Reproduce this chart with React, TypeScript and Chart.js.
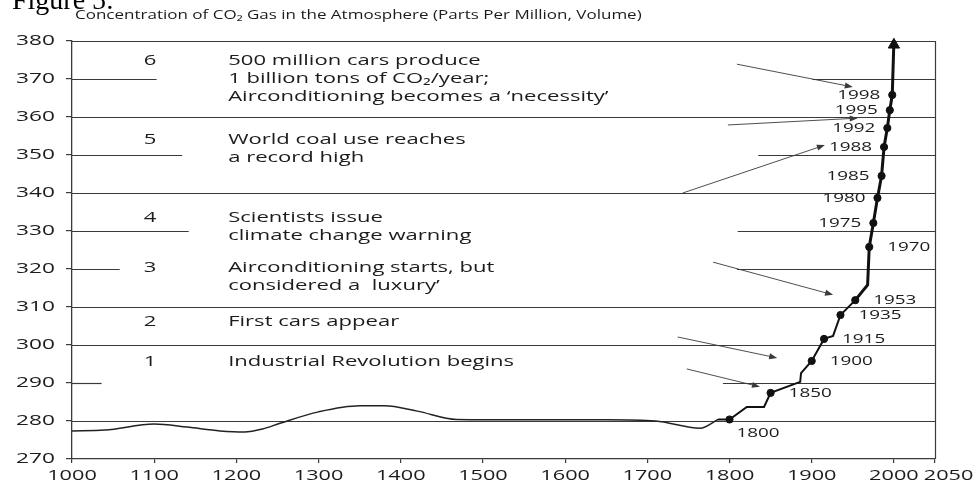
import { useEffect, useRef } from 'react';
import { Chart, registerables } from 'chart.js';

Chart.register(...registerables);

// ---------- data ----------
const xTickValues = [1000, 1100, 1200, 1300, 1400, 1500, 1600, 1700, 1800, 1900, 2000, 2050];
const yTickValues = [270, 280, 290, 300, 310, 320, 330, 340, 350, 360, 370, 380];

const preIndustrialYears = [1000, 1040, 1100, 1140, 1180, 1210, 1232, 1253, 1300, 1350, 1380, 1420, 1468, 1550, 1650, 1710, 1764, 1786];
const preIndustrialPpm = [277.4, 277.6, 279.2, 278.4, 277.4, 277.1, 277.9, 279.4, 282.4, 284.0, 284.0, 282.6, 280.4, 280.3, 280.3, 280.0, 278.1, 280.4];

const industrialYears = [1786, 1800, 1821, 1842, 1850, 1886, 1887, 1900, 1915, 1926, 1935, 1953, 1968, 1970, 1975, 1980, 1985, 1988, 1992, 1995, 1998, 2000];
const industrialPpm = [280.4, 280.4, 283.7, 283.7, 287.4, 290.3, 292.6, 295.8, 301.6, 302.4, 307.9, 311.8, 315.8, 325.8, 332.1, 338.7, 344.5, 352.1, 357.1, 361.8, 365.8, 380];

const markedYears = [1800, 1850, 1900, 1915, 1935, 1953, 1970, 1975, 1980, 1985, 1988, 1992, 1995, 1998];

const arrowTipYear = [2000];
const arrowTipPpm = [379.0];

const eventNumbers = ['6', '5', '4', '3', '2', '1'];
const eventLines = [
  ['500 million cars produce', '1 billion tons of CO\u2082/year;', 'Airconditioning becomes a \u2018necessity\u2019'],
  ['World coal use reaches', 'a record high'],
  ['Scientists issue', 'climate change warning'],
  ['Airconditioning starts, but', 'considered a  luxury\u2019'],
  ['First cars appear'],
  ['Industrial Revolution begins'],
];
const eventPpm = [374.7, 353.9, 333.4, 320.3, 306.1, 295.5];
const eventNumberYear = 1095;
const eventTextYear = 1190;

const pointerFromYear = [1809, 1798, 1743, 1780, 1737, 1748];
const pointerFromPpm = [373.9, 357.9, 340.0, 321.8, 302.1, 293.7];
const pointerToYear = [1950, 1956, 1916, 1926, 1858, 1837];
const pointerToPpm = [367.9, 359.7, 352.6, 313.2, 296.6, 289.0];

const fullGridLevels = [380, 360, 340, 310, 300, 280];
const partialGridLevels = [370, 350, 330, 320, 290];
const partialLeftEndYear = [1103, 1134, 1142, 1058, 1036];
const partialRightStartYear = [1901, 1835, 1810, 1809, 1792];

const titleText = 'Concentration of CO\u2082 Gas in the Atmosphere (Parts Per Million, Volume)';
const figureText = 'Figure 5:';

// ---------- styles ----------
const INK = '#1c1c1c';
const LINE = '#3a3a3a';
const FONT = '"Open Sans", "DejaVu Sans", sans-serif';

function stretchText(ctx: CanvasRenderingContext2D, text: string, x: number, y: number, align: string, sx: number) {
  const w = ctx.measureText(text).width * sx;
  const left = align === 'left' ? x : align === 'right' ? x - w : x - w / 2;
  ctx.save();
  ctx.translate(left, y);
  ctx.scale(sx, 1);
  ctx.textAlign = 'left';
  ctx.fillText(text, 0, 0);
  ctx.restore();
  return { left, right: left + w };
}

const overlayPlugin = {
  id: 'overlay',
  beforeDatasetsDraw(chart: any) {
    const { ctx, chartArea, scales } = chart;
    const x = scales.x;
    const y = scales.y;
    ctx.save();
    ctx.strokeStyle = LINE;
    ctx.lineWidth = 1.2;
    const seg = (v: number, a: number, b: number) => {
      const py = Math.round(y.getPixelForValue(v)) + 0.5;
      ctx.beginPath();
      ctx.moveTo(x.getPixelForValue(a), py);
      ctx.lineTo(x.getPixelForValue(b), py);
      ctx.stroke();
    };
    fullGridLevels.forEach((v) => seg(v, 1000, 2050));
    partialGridLevels.forEach((v, i) => {
      seg(v, 1000, partialLeftEndYear[i]);
      seg(v, partialRightStartYear[i], 2050);
    });
    ctx.beginPath();
    ctx.moveTo(Math.round(chartArea.right) + 0.5, chartArea.top);
    ctx.lineTo(Math.round(chartArea.right) + 0.5, chartArea.bottom);
    ctx.stroke();

    // pointer arrows
    ctx.lineWidth = 0.9;
    ctx.fillStyle = LINE;
    pointerFromYear.forEach((_, i) => {
      const x1 = x.getPixelForValue(pointerFromYear[i]);
      const y1 = y.getPixelForValue(pointerFromPpm[i]);
      const x2 = x.getPixelForValue(pointerToYear[i]);
      const y2 = y.getPixelForValue(pointerToPpm[i]);
      const ang = Math.atan2(y2 - y1, x2 - x1);
      ctx.beginPath();
      ctx.moveTo(x1, y1);
      ctx.lineTo(x2 - Math.cos(ang) * 4, y2 - Math.sin(ang) * 4);
      ctx.stroke();
      ctx.beginPath();
      ctx.moveTo(x2, y2);
      ctx.lineTo(x2 - Math.cos(ang) * 8 - Math.sin(ang) * 3, y2 - Math.sin(ang) * 8 + Math.cos(ang) * 3);
      ctx.lineTo(x2 - Math.cos(ang) * 8 + Math.sin(ang) * 3, y2 - Math.sin(ang) * 8 - Math.cos(ang) * 3);
      ctx.closePath();
      ctx.fill();
    });
    ctx.restore();
  },
  afterDatasetsDraw(chart: any) {
    const { ctx, chartArea, scales } = chart;
    const x = scales.x;
    const y = scales.y;
    ctx.save();
    ctx.fillStyle = INK;
    ctx.textBaseline = 'middle';

    // figure caption (cut off at top)
    ctx.save();
    ctx.font = '28px "Liberation Serif", serif';
    ctx.textBaseline = 'alphabetic';
    ctx.fillStyle = '#000';
    ctx.fillText(figureText, 12, 9);
    ctx.restore();

    // title
    ctx.font = `12.5px ${FONT}`;
    stretchText(ctx, titleText, chartArea.left + 3, 15, 'left', 1.36);

    // tick labels
    ctx.font = `14px ${FONT}`;
    y.ticks.forEach((t: any) => {
      stretchText(ctx, String(t.value), chartArea.left - 17, y.getPixelForValue(t.value), 'right', 1.62);
    });
    let prevRight = -Infinity;
    x.ticks.forEach((t: any) => {
      const label = String(t.value);
      const w = ctx.measureText(label).width * 1.55;
      let cx = x.getPixelForValue(t.value);
      if (cx - w / 2 < prevRight + 5) cx = prevRight + 5 + w / 2;
      const r = stretchText(ctx, label, cx, chartArea.bottom + 17, 'center', 1.55);
      prevRight = r.right;
    });

    // event annotations
    ctx.font = `15px ${FONT}`;
    eventNumbers.forEach((num, i) => {
      const py = y.getPixelForValue(eventPpm[i]);
      stretchText(ctx, num, x.getPixelForValue(eventNumberYear), py, 'center', 1.47);
      eventLines[i].forEach((line, j) => {
        stretchText(ctx, line, x.getPixelForValue(eventTextYear), py + j * 17.8, 'left', 1.47);
      });
    });

    // year labels beside dots
    ctx.font = `13px ${FONT}`;
    markedYears.forEach((yr) => {
      const idx = industrialYears.indexOf(yr);
      const px = x.getPixelForValue(yr);
      const py = y.getPixelForValue(industrialPpm[idx]);
      const label = String(yr);
      if (yr >= 1975) {
        stretchText(ctx, label, px - 12, py, 'right', 1.45);
      } else if (yr === 1800) {
        stretchText(ctx, label, px + 7, py + 14, 'left', 1.45);
      } else {
        stretchText(ctx, label, px + 18, py, 'left', 1.45);
      }
    });
    ctx.restore();
  },
};

export default function App() {
  const canvasRef = useRef<HTMLCanvasElement | null>(null);

  useEffect(() => {
    if (!canvasRef.current) return;
    const chart = new Chart(canvasRef.current, {
      type: 'line',
      data: {
        datasets: [
          {
            label: 'Pre-industrial',
            data: preIndustrialYears.map((yr, i) => ({ x: yr, y: preIndustrialPpm[i] })),
            borderColor: '#222',
            borderWidth: 1.5,
            pointRadius: 0,
            cubicInterpolationMode: 'monotone',
            fill: false,
          },
          {
            label: 'Industrial',
            data: industrialYears.map((yr, i) => ({ x: yr, y: industrialPpm[i] })),
            borderColor: '#111',
            borderWidth: 2,
            pointRadius: 0,
            tension: 0,
            fill: false,
            segment: {
              borderWidth: (c: any) => (c.p0.parsed.x >= 1953 ? 3 : 2),
            },
          },
          {
            label: 'Marked years',
            type: 'scatter',
            data: markedYears.map((yr) => ({ x: yr, y: industrialPpm[industrialYears.indexOf(yr)] })),
            backgroundColor: '#111',
            borderColor: '#111',
            pointRadius: 3.6,
            showLine: false,
          },
          {
            label: 'Arrow',
            type: 'scatter',
            data: arrowTipYear.map((yr, i) => ({ x: yr, y: arrowTipPpm[i] })),
            backgroundColor: '#111',
            borderColor: '#111',
            pointStyle: 'triangle',
            pointRadius: 6.5,
            clip: false,
            showLine: false,
          },
        ] as any,
      },
      options: {
        animation: false,
        responsive: false,
        devicePixelRatio: 1,
        layout: { padding: { top: 41, right: 41, left: 0, bottom: 0 } },
        plugins: { legend: { display: false }, title: { display: false }, tooltip: { enabled: false } },
        scales: {
          x: {
            type: 'linear',
            min: 1000,
            max: 2050,
            afterBuildTicks: (s: any) => {
              s.ticks = xTickValues.map((v) => ({ value: v }));
            },
            afterFit: (s: any) => {
              s.height = 22;
            },
            ticks: { display: false },
            grid: { drawOnChartArea: false, drawTicks: true, tickLength: 4, color: LINE, lineWidth: 1.2 },
            border: { display: true, color: LINE, width: 1.3 },
          },
          y: {
            type: 'linear',
            min: 270,
            max: 380,
            afterBuildTicks: (s: any) => {
              s.ticks = yTickValues.map((v) => ({ value: v }));
            },
            afterFit: (s: any) => {
              s.width = 72;
            },
            ticks: { display: false },
            grid: { drawOnChartArea: false, drawTicks: true, tickLength: 6, color: LINE, lineWidth: 1.2 },
            border: { display: true, color: LINE, width: 1.3 },
          },
        },
      } as any,
      plugins: [overlayPlugin],
    });
    return () => chart.destroy();
  }, []);

  return (
    <div style={{ position: 'fixed', left: 0, top: 0, width: 976, height: 481, background: '#fff' }}>
      <canvas ref={canvasRef} width={976} height={481} style={{ display: 'block' }} />
    </div>
  );
}
